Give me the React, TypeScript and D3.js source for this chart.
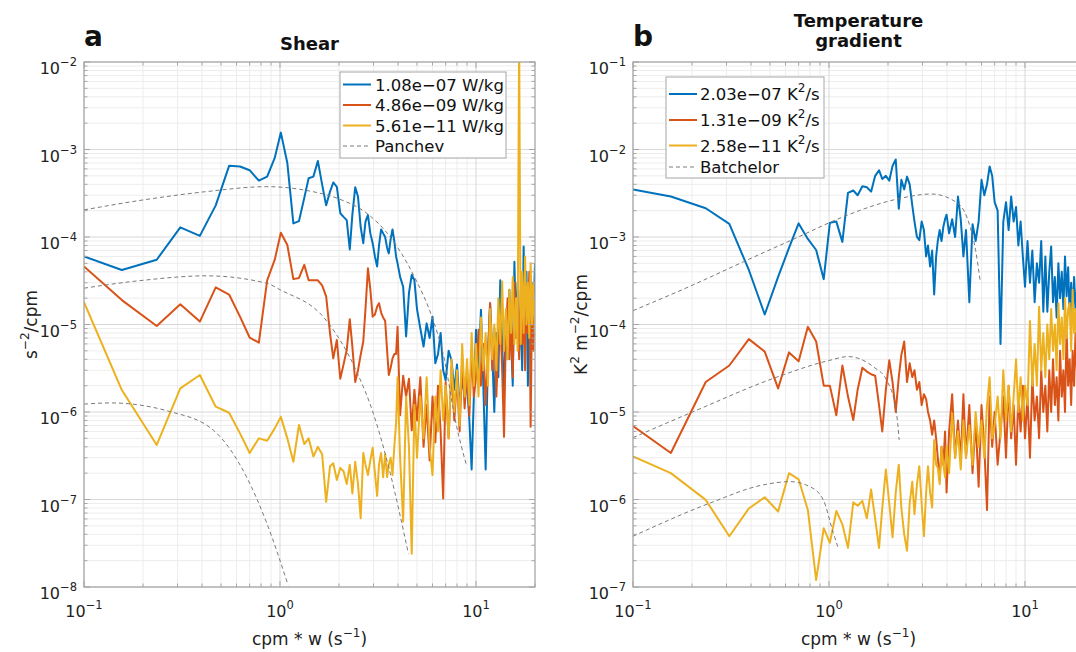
import React from 'react';
import * as d3 from 'd3';

// frequency bins (cpm * w, s^-1), shared by every spectrum
const freq = [
  0.1, 0.156, 0.235, 0.31, 0.39, 0.47, 0.55, 0.625, 0.7, 0.78,
  0.86, 0.94, 1.01, 1.09, 1.17, 1.25, 1.33, 1.4, 1.48, 1.56,
  1.64, 1.72, 1.8, 1.87, 1.95, 2.03, 2.11, 2.19, 2.27, 2.34,
  2.42, 2.5, 2.58, 2.66, 2.73, 2.81, 2.89, 2.97, 3.05, 3.13,
  3.2, 3.28, 3.36, 3.44, 3.52, 3.59, 3.67, 3.75, 3.83, 3.91,
  3.98, 4.1, 4.25, 4.4, 4.55, 4.7, 4.85, 5.0, 5.2, 5.4,
  5.6, 5.8, 6.0, 6.2, 6.4, 6.6, 6.8, 7.0, 7.25, 7.5,
  7.75, 8.0, 8.25, 8.5, 8.75, 9.0, 9.25, 9.5, 9.75, 10,
  10.3, 10.6, 10.9, 11.2, 11.5, 11.8, 12.1, 12.4, 12.7, 13.0,
  13.3, 13.6, 13.9, 14.2, 14.5, 14.8, 15.1, 15.4, 15.7, 16.0,
  16.3, 16.6, 16.9, 17.2, 17.5, 17.8, 18.1, 18.4, 18.7, 19.0,
  19.3, 19.6, 20,
];

// panel a: shear spectra (s^-2/cpm)
const shearBlue = [
  6.0e-5, 4.2e-5, 5.5e-5, 1.29e-4, 1.03e-4, 2.3e-4, 6.5e-4, 6.4e-4, 5.8e-4, 4.4e-4,
  4.9e-4, 8.0e-4, 1.56e-3, 7.0e-4, 1.43e-4, 1.52e-4, 2.8e-4, 4.7e-4, 4.9e-4, 7.4e-4,
  4.0e-4, 2.3e-4, 3.3e-4, 4.2e-4, 3.75e-4, 1.87e-4, 1.7e-4, 1.56e-4, 7.2e-5, 1.8e-4,
  3.7e-4, 2.9e-4, 1.3e-4, 8.5e-5, 1.5e-4, 1.78e-4, 1.1e-4, 8.5e-5, 6.0e-5, 4.6e-5,
  8e-5, 1.22e-4, 1.1e-4, 1.0e-4, 7.5e-5, 6.5e-5, 9.5e-5, 1.22e-4, 9.0e-5, 6.0e-5,
  5.0e-5, 3.5e-5, 2.7e-5, 7.3e-6, 2.3e-5, 3.7e-5, 3.2e-5, 1.5e-5, 9e-6, 5.6e-6,
  1.03e-5, 7e-6, 1.23e-5, 3.6e-6, 4.6e-6, 8e-6, 3e-6, 2.3e-6, 5e-6, 3.9e-6,
  1.8e-6, 3.5e-6, 1.15e-6, 2.5e-6, 1.5e-6, 2.1e-6, 8e-7, 2.2e-7, 1.5e-6, 8.7e-6,
  3e-6, 1.47e-5, 2e-6, 2.2e-7, 4e-6, 1.75e-5, 5e-6, 1e-6, 8e-6, 2.5e-6,
  3.2e-5, 6e-6, 1.5e-6, 1.2e-5, 4e-6, 2.5e-5, 7e-6, 2e-6, 5.2e-5, 9e-6,
  3e-5, 5e-6, 1.5e-5, 3e-6, 7.8e-5, 1e-5, 4e-5, 2e-6, 2e-5, 6e-6,
  3e-5, 1e-5, 5e-5,
];
const shearOrange = [
  4.6e-5, 1.9e-5, 9.6e-6, 1.7e-5, 1.08e-5, 2.66e-5, 2.2e-5, 1.23e-5, 7.1e-6, 6.2e-6,
  3.2e-5, 5.5e-5, 1.12e-4, 8.1e-5, 3.3e-5, 3.4e-5, 4.8e-5, 3.2e-5, 3.2e-5, 3.2e-5,
  2.8e-5, 2.1e-5, 7.9e-6, 4.1e-6, 6.65e-6, 2.4e-6, 3.5e-6, 5.1e-6, 1.15e-5, 5.6e-6,
  2.2e-6, 3.0e-6, 4.5e-6, 6.4e-6, 1.5e-5, 4.4e-5, 2.5e-5, 1.23e-5, 1.3e-5, 1.6e-5,
  1.75e-5, 1.37e-5, 1.2e-5, 1.1e-5, 5e-6, 2.65e-6, 3.2e-6, 4.1e-6, 4.6e-6, 4.6e-6,
  9.4e-6, 9.2e-7, 2.6e-6, 1.5e-6, 2.4e-6, 6.2e-7, 1.8e-6, 8e-7, 2.5e-6, 4e-7,
  1.2e-6, 2.8e-7, 1.5e-6, 4.5e-7, 2e-6, 6e-7, 1.03e-7, 2.2e-6, 5e-7, 3.3e-6,
  8e-7, 2.5e-6, 6e-7, 4e-6, 1.1e-6, 3e-6, 9e-7, 5e-6, 1.5e-6, 2.5e-6,
  8.7e-6, 2e-6, 6e-6, 1.2e-6, 4.5e-6, 1.75e-5, 3e-6, 9e-6, 1.5e-6, 6e-6,
  1.2e-5, 3e-6, 5.2e-7, 8e-6, 2e-5, 4e-6, 1e-5, 2.5e-6, 3e-5, 7e-6,
  1.5e-5, 4e-6, 2.5e-5, 6e-6, 1.2e-5, 3e-6, 2e-5, 8e-6, 4e-5, 6.8e-7,
  1.5e-5, 5e-6, 2e-5,
];
const shearYellow = [
  1.8e-5, 1.78e-6, 4.2e-7, 1.86e-6, 2.65e-6, 1.15e-6, 9.8e-7, 5.7e-7, 3.4e-7, 5.0e-7,
  4.7e-7, 6.5e-7, 8.8e-7, 5e-7, 2.7e-7, 7.1e-7, 4.3e-7, 5.0e-7, 3.1e-7, 4.0e-7,
  3.3e-7, 9.4e-8, 2.4e-7, 2.6e-7, 1.67e-7, 2.3e-7, 2.1e-7, 1.5e-7, 2.5e-7, 1.17e-7,
  2.7e-7, 1.5e-7, 6.1e-8, 3.4e-7, 2.5e-7, 1.9e-7, 2.8e-7, 3.9e-7, 2.0e-7, 1.1e-7,
  2.5e-7, 3.4e-7, 1.8e-7, 3.3e-7, 1.8e-7, 2.5e-7, 3.0e-7, 1.9e-7, 4e-7, 7.4e-7,
  2.5e-6, 3e-7, 5.6e-8, 1.5e-6, 4e-7, 2.4e-8, 1.2e-6, 3e-7, 1.5e-6, 5e-7,
  2.5e-6, 4e-7, 1.9e-7, 1.5e-6, 6e-7, 3e-6, 8e-7, 2e-6, 5e-7, 4e-6,
  1e-6, 3e-6, 7e-7, 6e-6, 1.5e-6, 4e-6, 1.2e-6, 8e-6, 2e-6, 6e-6,
  1.5e-6, 1.2e-5, 3e-6, 8e-6, 2e-6, 1.5e-5, 4e-6, 1e-5, 3e-6, 2e-5,
  6e-6, 3.1e-5, 5e-6, 1.5e-5, 4e-6, 2.5e-5, 8e-6, 3.5e-5, 6e-6, 2e-5,
  5e-6, 2e-2, 6e-6, 4e-5, 8e-6, 6e-5, 1e-5, 3e-5, 7e-6, 5e-5,
  1e-5, 3e-5, 8e-6,
];

// panel b: temperature gradient spectra (K^2 m^-2/cpm)
const tempBlue = [
  3.5e-3, 2.9e-3, 2.13e-3, 1.41e-3, 4.2e-4, 1.3e-4, 3.5e-4, 7.5e-4, 1.43e-3, 9.5e-4,
  7.1e-4, 3.3e-4, 1.45e-3, 1.5e-3, 8.8e-4, 3.2e-3, 3.4e-3, 3.0e-3, 3.8e-3, 3.7e-3,
  3.3e-3, 5.0e-3, 5.8e-3, 4.6e-3, 5.0e-3, 4.4e-3, 6.5e-3, 7.7e-3, 2.1e-3, 4.5e-3,
  3.5e-3, 4.9e-3, 4.0e-3, 2.3e-3, 1.5e-3, 1.0e-3, 9.2e-4, 1.5e-3, 1.2e-3, 6e-4,
  8e-4, 4.6e-4, 7e-4, 2.2e-4, 6e-4, 9e-4, 1.2e-3, 9e-4, 1.3e-3, 1.6e-3,
  1.8e-3, 1.1e-3, 1.6e-3, 1.0e-3, 2.9e-3, 1.6e-3, 6e-4, 1.2e-3, 1.8e-4, 1.4e-3,
  9e-4, 1.5e-3, 4.5e-3, 3e-3, 4e-3, 6.4e-3, 5e-3, 2.5e-3, 2e-3, 6e-5,
  1.5e-3, 2.5e-3, 1.2e-3, 2.9e-3, 1.5e-3, 2.2e-3, 8e-4, 1.5e-3, 6e-4, 2.7e-4,
  9e-4, 3e-4, 7e-4, 1.8e-4, 5e-4, 3e-4, 9e-4, 1.4e-4, 6e-4, 1.4e-4,
  4e-4, 7.8e-4, 1.8e-4, 3.5e-4, 1.2e-4, 5e-4, 2e-4, 4e-4, 1.5e-4, 6e-4,
  2.1e-4, 4.5e-4, 1.3e-4, 3e-4, 1.2e-4, 3.5e-4, 1.5e-4, 2.5e-4, 1e-4, 3e-4,
  1.5e-4, 2e-4, 1.2e-4,
];
const tempOrange = [
  6.9e-6, 3.4e-6, 2.2e-5, 3.4e-5, 6.8e-5, 4.9e-5, 1.86e-5, 4.8e-5, 3.8e-5, 9.4e-5,
  6.4e-5, 2.0e-5, 2.0e-5, 9.2e-6, 3.4e-5, 1.5e-5, 8.1e-6, 1.8e-5, 3.2e-5, 2.9e-5,
  2.7e-5, 2.6e-5, 1.2e-5, 6.0e-6, 1.8e-5, 3.9e-5, 2.2e-5, 1.0e-5, 2.5e-5, 4.5e-5,
  6.4e-5, 2.2e-5, 3.6e-5, 2.5e-5, 3.0e-5, 1.8e-5, 2.2e-5, 1.2e-5, 1.6e-5, 1.4e-5,
  1.0e-5, 8e-6, 5.5e-6, 8e-6, 5e-6, 3e-6, 1.67e-6, 4e-6, 2.5e-6, 6e-6,
  1.2e-6, 6e-6, 1.6e-5, 3e-6, 8e-6, 2.8e-6, 1.6e-5, 3e-6, 1.2e-5, 2e-6,
  8e-6, 1.4e-6, 1.2e-5, 4e-6, 7.6e-7, 1.5e-5, 4e-6, 1e-5, 2.5e-6, 6e-6,
  1.5e-5, 3e-6, 2e-5, 5e-6, 1.2e-5, 2.5e-6, 1.5e-5, 6e-6, 2e-5, 5e-6,
  1.5e-5, 3e-6, 2.5e-5, 8e-6, 1.5e-5, 5e-6, 3e-5, 1e-5, 2e-5, 6e-6,
  3e-5, 1e-5, 4e-5, 1.2e-5, 2.5e-5, 8e-6, 5e-5, 1.5e-5, 3e-5, 1e-5,
  8.8e-5, 2e-5, 4e-5, 1.2e-5, 5e-5, 2e-5, 8e-5, 3e-5, 6e-5, 7.6e-6,
  6e-5, 2.5e-5, 1e-4,
];
const tempYellow = [
  3.1e-6, 2.0e-6, 9.9e-7, 3.8e-7, 7.9e-7, 1.06e-6, 7.3e-7, 2.0e-6, 1.7e-6, 7.6e-7,
  1.2e-7, 4.7e-7, 3.2e-7, 7.4e-7, 5.2e-7, 2.8e-7, 9.3e-7, 8.5e-7, 9.6e-7, 6.1e-7,
  1.3e-6, 6e-7, 2.8e-7, 8e-7, 2.2e-6, 9e-7, 3.7e-7, 1.2e-6, 2.5e-6, 8e-7,
  4e-7, 2.6e-7, 9e-7, 1.6e-6, 6.8e-7, 1.5e-6, 2.4e-6, 9e-7, 3.8e-7, 1.2e-6,
  2.4e-6, 1.2e-6, 8.1e-7, 4.8e-6, 2.5e-6, 2.3e-6, 1.5e-6, 4e-6, 2.5e-6, 1.8e-6,
  4e-6, 2e-6, 9.7e-6, 3e-6, 6e-6, 2.2e-6, 8e-6, 3e-6, 7e-6, 2.5e-6,
  1e-5, 4e-6, 8e-6, 3e-6, 1.2e-5, 2.5e-5, 5e-6, 7e-6, 1.5e-5, 5e-6,
  3e-5, 8e-6, 2e-5, 6e-6, 1.5e-5, 4e-5, 1e-5, 2.5e-5, 8e-6, 2e-5,
  1.2e-5, 1.1e-4, 2e-5, 6e-5, 2e-5, 1.6e-4, 3e-5, 8e-5, 2.5e-5, 1e-4,
  4e-5, 1.5e-4, 5e-5, 1e-4, 3e-5, 1.75e-4, 6e-5, 1.2e-4, 4e-5, 2e-4,
  7e-5, 1.5e-4, 1.75e-4, 5e-5, 2.5e-4, 8e-5, 1.5e-4, 6e-5, 2e-4, 1e-4,
  3e-4, 1e-4, 2e-4,
];

// theoretical fits (dashed)
const panchevF1 = [0.1, 0.2, 0.42, 0.855, 1.37, 2.02, 2.77, 3.65, 4.79, 6.06, 6.8, 7.97, 8.97];
const panchevV1 = [2.04e-4, 2.65e-4, 3.3e-4, 3.76e-4, 3.4e-4, 2.7e-4, 1.87e-4, 1.0e-4, 3.7e-5, 1.1e-5, 4.6e-6, 6.8e-7, 2.4e-7];
const panchevF2 = [0.1, 0.2, 0.42, 0.86, 1.0, 1.73, 2.46, 2.99, 3.65, 4.52];
const panchevV2 = [2.6e-5, 3.2e-5, 3.6e-5, 2.95e-5, 2.5e-5, 1.1e-5, 2.9e-6, 9.7e-7, 2e-7, 2.4e-8];
const panchevF3 = [0.1, 0.136, 0.275, 0.457, 0.676, 0.855, 1.1];
const panchevV3 = [1.23e-6, 1.27e-6, 1.01e-6, 6.2e-7, 1.8e-7, 5.4e-8, 1.05e-8];

const batchF1 = [0.1, 0.2, 0.365, 0.697, 1.18, 2.21, 3.34, 4.57, 5.25, 5.6, 5.9];
const batchV1 = [1.44e-4, 2.8e-4, 5.2e-4, 1.0e-3, 1.7e-3, 2.7e-3, 3.1e-3, 2.4e-3, 1.3e-3, 7e-4, 3.2e-4];
const batchF2 = [0.1, 0.195, 0.541, 1.01, 1.25, 1.68, 1.97, 2.21, 2.28];
const batchV2 = [5.1e-6, 9.7e-6, 2.5e-5, 3.9e-5, 4.3e-5, 3.3e-5, 2.3e-5, 9.7e-6, 4.8e-6];
const batchF3 = [0.1, 0.247, 0.462, 0.632, 0.8, 0.935, 1.05, 1.12];
const batchV3 = [3.8e-7, 9.1e-7, 1.47e-6, 1.6e-6, 1.4e-6, 9.9e-7, 4.2e-7, 2.7e-7];

const shearLabels = ['1.08e\u221207 W/kg', '4.86e\u221209 W/kg', '5.61e\u221211 W/kg'];
const tempLabels = ['2.03e\u221207', '1.31e\u221209', '2.58e\u221211'];

const colors = ['#0072BD', '#D95319', '#EDB120'];
const FONT = '"DejaVu Sans", Verdana, sans-serif';
const DASH = '#7a7a7a';

interface Fit { f: number[]; v: number[] }

interface PanelProps {
  id: string;
  left: number;
  right: number;
  top: number;
  bottom: number;
  yMin: number;
  yMax: number;
  series: number[][];
  fits: Fit[];
}

const isDecade = (v: number) => Math.abs(Math.log10(v) - Math.round(Math.log10(v))) < 1e-6;

function Panel({ id, left, right, top, bottom, yMin, yMax, series, fits }: PanelProps) {
  const x = d3.scaleLog().domain([0.1, 20]).range([left, right]);
  const y = d3.scaleLog().domain([yMin, yMax]).range([bottom, top]);
  const xt = x.ticks();
  const yt = y.ticks();

  const spec = d3.line<number>().x((_, i) => x(freq[i])).y(d => y(d));
  const fitLine = (fit: Fit) =>
    d3.line<number>().x((_, i) => x(fit.f[i])).y(d => y(d)).curve(d3.curveMonotoneX)(fit.v) || '';

  return (
    <g>
      <defs>
        <clipPath id={id}>
          <rect x={left} y={top} width={right - left} height={bottom - top} />
        </clipPath>
      </defs>
      <rect x={left} y={top} width={right - left} height={bottom - top} fill="#fff" />
      {xt.filter(t => !isDecade(t)).map(t => (
        <line key={'xm' + t} x1={x(t)} x2={x(t)} y1={top} y2={bottom} stroke="#ededed" />
      ))}
      {yt.filter(t => !isDecade(t)).map(t => (
        <line key={'ym' + t} x1={left} x2={right} y1={y(t)} y2={y(t)} stroke="#ededed" />
      ))}
      {xt.filter(isDecade).map(t => (
        <line key={'xM' + t} x1={x(t)} x2={x(t)} y1={top} y2={bottom} stroke="#d8d8d8" />
      ))}
      {yt.filter(isDecade).map(t => (
        <line key={'yM' + t} x1={left} x2={right} y1={y(t)} y2={y(t)} stroke="#d8d8d8" />
      ))}
      <g clipPath={`url(#${id})`}>
        {series.map((s, k) => (
          <path key={k} d={spec(s) || ''} fill="none" stroke={colors[k]} strokeWidth={2}
            strokeLinejoin="round" />
        ))}
        {fits.map((fit, k) => (
          <path key={'f' + k} d={fitLine(fit)} fill="none" stroke={DASH} strokeWidth={1}
            strokeDasharray="4,3" />
        ))}
      </g>
      <rect x={left} y={top} width={right - left} height={bottom - top} fill="none"
        stroke="#a6a6a6" strokeWidth={1.2} />
      {xt.map(t => {
        const len = isDecade(t) ? 6 : 3.5;
        return (
          <g key={'xt' + t} stroke="#a6a6a6">
            <line x1={x(t)} x2={x(t)} y1={bottom} y2={bottom - len} />
            <line x1={x(t)} x2={x(t)} y1={top} y2={top + len} />
          </g>
        );
      })}
      {yt.map(t => {
        const len = isDecade(t) ? 6 : 3.5;
        return (
          <g key={'yt' + t} stroke="#a6a6a6">
            <line x1={left} x2={left + len} y1={y(t)} y2={y(t)} />
            <line x1={right} x2={right - len} y1={y(t)} y2={y(t)} />
          </g>
        );
      })}
      {xt.filter(isDecade).map(t => {
        const e = Math.round(Math.log10(t));
        return (
          <text key={'xl' + t} x={x(t)} y={bottom + 30} textAnchor="middle" fontSize={16}
            fill="#222">
            10<tspan dy={-8} fontSize={11.5}>{e < 0 ? '\u2212' + -e : String(e)}</tspan>
          </text>
        );
      })}
      {yt.filter(isDecade).map(t => {
        const e = Math.round(Math.log10(t));
        return (
          <text key={'yl' + t} x={left - 7} y={y(t) + 12} textAnchor="end" fontSize={16}
            fill="#222">
            10<tspan dy={-8} fontSize={11.5}>{'\u2212' + -e}</tspan>
          </text>
        );
      })}
    </g>
  );
}

const App: React.FC = () => {
  const aL = 84, aR = 535, bL = 633, bR = 1084, top = 62, bottom = 587;
  const aMid = (aL + aR) / 2;
  const bMid = (bL + bR) / 2;

  return (
    <svg width={1076} height={652} style={{ position: 'absolute', left: 0, top: 0, background: '#fff' }}
      fontFamily={FONT}>
      <rect width={1076} height={652} fill="#fff" />
      <Panel id="clipA" left={aL} right={aR} top={top} bottom={bottom} yMin={1e-8} yMax={1e-2}
        series={[shearBlue, shearOrange, shearYellow]}
        fits={[
          { f: panchevF1, v: panchevV1 },
          { f: panchevF2, v: panchevV2 },
          { f: panchevF3, v: panchevV3 },
        ]} />
      <Panel id="clipB" left={bL} right={bR} top={top} bottom={bottom} yMin={1e-7} yMax={1e-1}
        series={[tempBlue, tempOrange, tempYellow]}
        fits={[
          { f: batchF1, v: batchV1 },
          { f: batchF2, v: batchV2 },
          { f: batchF3, v: batchV3 },
        ]} />

      {/* panel letters and titles */}
      <text x={aL} y={46} fontSize={28} fontWeight="bold" fill="#111">a</text>
      <text x={bL} y={46} fontSize={28} fontWeight="bold" fill="#111">b</text>
      <text x={aMid} y={50} textAnchor="middle" fontSize={18} fontWeight="bold" fill="#111">Shear</text>
      <text x={bMid} y={27} textAnchor="middle" fontSize={18} fontWeight="bold" fill="#111">Temperature</text>
      <text x={bMid} y={47} textAnchor="middle" fontSize={18} fontWeight="bold" fill="#111">gradient</text>

      {/* axis labels */}
      <text x={aMid} y={645} textAnchor="middle" fontSize={17} fill="#222">
        cpm * w (s<tspan dy={-8} fontSize={12}>{'\u22121'}</tspan><tspan dy={8}>)</tspan>
      </text>
      <text x={bMid} y={645} textAnchor="middle" fontSize={17} fill="#222">
        cpm * w (s<tspan dy={-8} fontSize={12}>{'\u22121'}</tspan><tspan dy={8}>)</tspan>
      </text>
      <text transform={`translate(37,${(top + bottom) / 2}) rotate(-90)`} textAnchor="middle"
        fontSize={17} fill="#222">
        s<tspan dy={-8} fontSize={12}>{'\u22122'}</tspan><tspan dy={8}>/cpm</tspan>
      </text>
      <text transform={`translate(587,${(top + bottom) / 2}) rotate(-90)`} textAnchor="middle"
        fontSize={17} fill="#222">
        K<tspan dy={-8} fontSize={12}>2</tspan><tspan dy={8}> m</tspan>
        <tspan dy={-8} fontSize={12}>{'\u22122'}</tspan><tspan dy={8}>/cpm</tspan>
      </text>

      {/* legend a */}
      <g>
        <rect x={340} y={72} width={166} height={86} fill="#fff" stroke="#a6a6a6" />
        {[0, 1, 2, 3].map(i => {
          const cy = 84.5 + i * 20.5;
          return (
            <g key={i}>
              <line x1={343} x2={371} y1={cy} y2={cy}
                stroke={i < 3 ? colors[i] : DASH} strokeWidth={i < 3 ? 2 : 1}
                strokeDasharray={i < 3 ? undefined : '4,3'} />
              <text x={375} y={cy + 6} fontSize={16.5} fill="#111">
                {i < 3 ? shearLabels[i] : 'Panchev'}
              </text>
            </g>
          );
        })}
      </g>

      {/* legend b */}
      <g>
        <rect x={666} y={77} width={158} height={101} fill="#fff" stroke="#a6a6a6" />
        {[0, 1, 2, 3].map(i => {
          const cy = [94, 120, 145.5, 167][i];
          return (
            <g key={i}>
              <line x1={669} x2={697} y1={cy} y2={cy}
                stroke={i < 3 ? colors[i] : DASH} strokeWidth={i < 3 ? 2 : 1}
                strokeDasharray={i < 3 ? undefined : '4,3'} />
              {i < 3 ? (
                <text x={700} y={cy + 6} fontSize={16.5} fill="#111">
                  {tempLabels[i]} K<tspan dy={-8} fontSize={12}>2</tspan><tspan dy={8}>/s</tspan>
                </text>
              ) : (
                <text x={700} y={cy + 6} fontSize={16.5} fill="#111">Batchelor</text>
              )}
            </g>
          );
        })}
      </g>
    </svg>
  );
};

export default App;
